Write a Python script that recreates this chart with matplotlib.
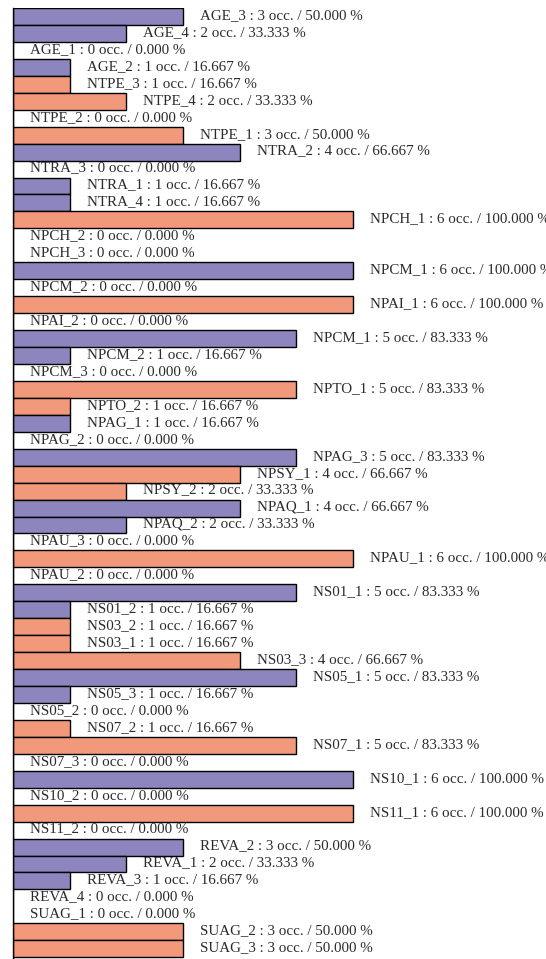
import matplotlib
matplotlib.use("Agg")
import matplotlib.pyplot as plt

labels = ["AGE_3", "AGE_4", "AGE_1", "AGE_2",
          "NTPE_3", "NTPE_4", "NTPE_2", "NTPE_1",
          "NTRA_2", "NTRA_3", "NTRA_1", "NTRA_4",
          "NPCH_1", "NPCH_2", "NPCH_3",
          "NPCM_1", "NPCM_2",
          "NPAI_1", "NPAI_2",
          "NPCM_1", "NPCM_2", "NPCM_3",
          "NPTO_1", "NPTO_2",
          "NPAG_1", "NPAG_2", "NPAG_3",
          "NPSY_1", "NPSY_2",
          "NPAQ_1", "NPAQ_2",
          "NPAU_3", "NPAU_1", "NPAU_2",
          "NS01_1", "NS01_2",
          "NS03_2", "NS03_1", "NS03_3",
          "NS05_1", "NS05_3", "NS05_2",
          "NS07_2", "NS07_1", "NS07_3",
          "NS10_1", "NS10_2",
          "NS11_1", "NS11_2",
          "REVA_2", "REVA_1", "REVA_3", "REVA_4",
          "SUAG_1", "SUAG_2", "SUAG_3", "SUAG_4"]

counts = [3, 2, 0, 1,
          1, 2, 0, 3,
          4, 0, 1, 1,
          6, 0, 0,
          6, 0,
          6, 0,
          5, 1, 0,
          5, 1,
          1, 0, 5,
          4, 2,
          4, 2,
          0, 6, 0,
          5, 1,
          1, 1, 4,
          5, 1, 0,
          1, 5, 0,
          6, 0,
          6, 0,
          3, 2, 1, 0,
          0, 3, 3, 0]

# group index (alternating colour per variable group)
groups = [0, 0, 0, 0,
          1, 1, 1, 1,
          0, 0, 0, 0,
          1, 1, 1,
          0, 0,
          1, 1,
          0, 0, 0,
          1, 1,
          0, 0, 0,
          1, 1,
          0, 0,
          1, 1, 1,
          0, 0,
          1, 1, 1,
          0, 0, 0,
          1, 1, 1,
          0, 0,
          1, 1,
          0, 0, 0, 0,
          1, 1, 1, 1]

total = 6
palette = ["#8d85bd", "#f1997a"]

W, H = 546, 959
fig = plt.figure(figsize=(W / 100, H / 100), dpi=100)

n = len(labels)
row_px = 16.95
left_px, top_px = 13, 8
unit_px = 340 / 6.0
xmax = 10
ax_w = xmax * unit_px
ax_h = n * row_px
ax = fig.add_axes([left_px / W, (H - top_px - ax_h) / H, ax_w / W, ax_h / H])

ypos = list(range(n))
colors = [palette[g] for g in groups]
ax.barh(ypos, counts, height=1.0, color=colors, edgecolor="black", linewidth=1.0)

for y, lab, c in zip(ypos, labels, counts):
    pct = c / total * 100
    ax.text(c + 17 / unit_px, y + 0.15, f"{lab} : {c} occ. / {pct:.3f} %",
            family=["Liberation Serif", "DejaVu Serif"], fontsize=10.8,
            color="#2a2a2a", va="baseline", ha="left", clip_on=False)

ax.set_xlim(0, xmax)
ax.set_ylim(n - 0.5, -0.5)
for s in ["top", "right", "bottom"]:
    ax.spines[s].set_visible(False)
ax.spines["left"].set_linewidth(1.0)
ax.set_xticks([])
ax.set_yticks([])

fig.savefig("out.png", dpi=100)
